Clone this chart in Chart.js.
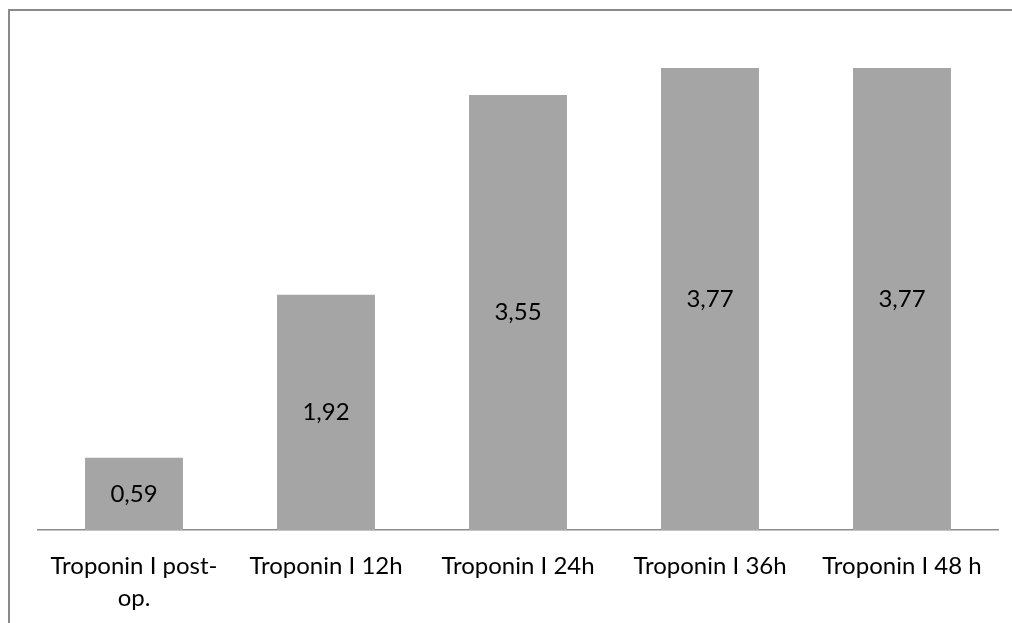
<!DOCTYPE html>
<html lang="pt">

<head>
    <meta charset="UTF-8">
    <title>Troponin I</title>
    <script src="https://cdn.jsdelivr.net/npm/chart.js"></script>
    <style>
        body { margin: 0; background: #fff; overflow: hidden; }
        #frame {
            position: absolute; left: 8px; top: 9px; width: 1100px; height: 700px;
            border-left: 2px solid #8a8a8a; border-top: 2px solid #8a8a8a;
        }
        #chartCanvas { position: absolute; left: 0; top: 0; }
    </style>
</head>

<body>
    <div id="frame"></div>
    <canvas id="chartCanvas" width="1012" height="623"></canvas>

    <script>
        const categories = [
            ['Troponin I post-', 'op.'],
            'Troponin I 12h',
            'Troponin I 24h',
            'Troponin I 36h',
            'Troponin I 48 h'
        ];
        const values = [0.59, 1.92, 3.55, 3.77, 3.77];
        const valueLabels = ['0,59', '1,92', '3,55', '3,77', '3,77'];

        const fontFamily = 'Lato, "Open Sans", sans-serif';

        // value written in the middle of every bar
        const barValues = {
            id: 'barValues',
            afterDatasetsDraw(chart) {
                const ctx = chart.ctx;
                ctx.save();
                ctx.font = '24px ' + fontFamily;
                ctx.fillStyle = '#000';
                ctx.textAlign = 'center';
                ctx.textBaseline = 'middle';
                chart.getDatasetMeta(0).data.forEach((bar, i) => {
                    ctx.fillText(valueLabels[i], bar.x, (bar.y + bar.base) / 2);
                });
                ctx.restore();
            }
        };

        new Chart(document.getElementById('chartCanvas').getContext('2d'), {
            type: 'bar',
            data: {
                labels: categories,
                datasets: [{
                    data: values,
                    backgroundColor: '#a5a5a5',
                    borderWidth: 0,
                    barPercentage: 0.51,
                    categoryPercentage: 1
                }]
            },
            options: {
                responsive: false,
                animation: false,
                layout: { padding: { left: 38, right: 14, top: 68, bottom: 0 } },
                plugins: { legend: { display: false }, tooltip: { enabled: false } },
                scales: {
                    x: {
                        grid: { display: false, drawTicks: false },
                        border: { display: true, color: '#8c8c8c', width: 1.5 },
                        ticks: {
                            color: '#000',
                            padding: 20,
                            maxRotation: 0,
                            autoSkip: false,
                            font: { family: fontFamily, size: 24, lineHeight: 1.33 }
                        },
                        afterFit(scale) { scale.height = 93; }
                    },
                    y: { display: false, min: 0, max: 3.77 }
                }
            },
            plugins: [barValues]
        });
    </script>

</body>

</html>
